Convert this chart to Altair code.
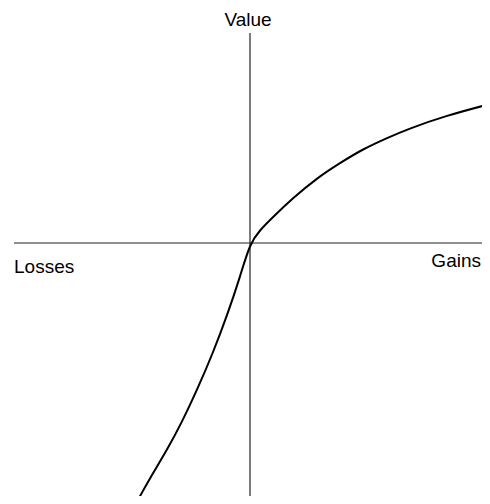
import altair as alt
import pandas as pd

# Value function curve (x: outcome, y: value)
curve_x = [-111, -100, -83, -68, -53, -37, -22, -10, 0,
           10, 23, 43, 67, 90, 113, 137, 158, 195, 240]
curve_y = [-255, -235, -207, -179, -147, -110, -70, -34, 0,
           13, 26, 45, 65, 80, 94, 105, 114, 127, 139]

# Axis lines
axis_x = [-236, 0]
axis_x2 = [240, 0]
axis_y = [0, 210]
axis_y2 = [0, -257]

# Labels
label_text = ["Value", "Losses", "Gains"]
label_x = [-2, -236, 231]
label_y = [217, -30, -24]
label_align = ["center", "left", "right"]

curve_df = pd.DataFrame({"x": curve_x, "y": curve_y})
axis_df = pd.DataFrame({"x": axis_x, "x2": axis_x2, "y": axis_y, "y2": axis_y2})
label_df = pd.DataFrame({"t": label_text, "x": label_x, "y": label_y})

xs = alt.Scale(domain=[-242, 232], nice=False, zero=False)
ys = alt.Scale(domain=[-253, 235], nice=False, zero=False)

axes = alt.Chart(axis_df).mark_rule(color="#222222", strokeWidth=1.2, clip=True).encode(
    x=alt.X("x:Q", scale=xs, axis=None),
    x2="x2:Q",
    y=alt.Y("y:Q", scale=ys, axis=None),
    y2="y2:Q",
)

curve = alt.Chart(curve_df).mark_line(
    color="black", strokeWidth=2, interpolate="basis", clip=True
).encode(
    x=alt.X("x:Q", scale=xs, axis=None),
    y=alt.Y("y:Q", scale=ys, axis=None),
    order="x:Q",
)

def label(i):
    d = label_df.iloc[[i]]
    return alt.Chart(d).mark_text(
        font="Liberation Sans", fontSize=19, color="black",
        align=label_align[i], baseline="alphabetic",
    ).encode(
        x=alt.X("x:Q", scale=xs, axis=None),
        y=alt.Y("y:Q", scale=ys, axis=None),
        text="t:N",
    )

chart = alt.layer(axes, curve, label(0), label(1), label(2)).properties(
    width=474, height=488,
    padding=0,
    autosize=alt.AutoSizeParams(type="none"),
    background="white",
).configure_view(stroke=None)

chart.save("out.html", embed_options={"renderer": "svg", "actions": False})
